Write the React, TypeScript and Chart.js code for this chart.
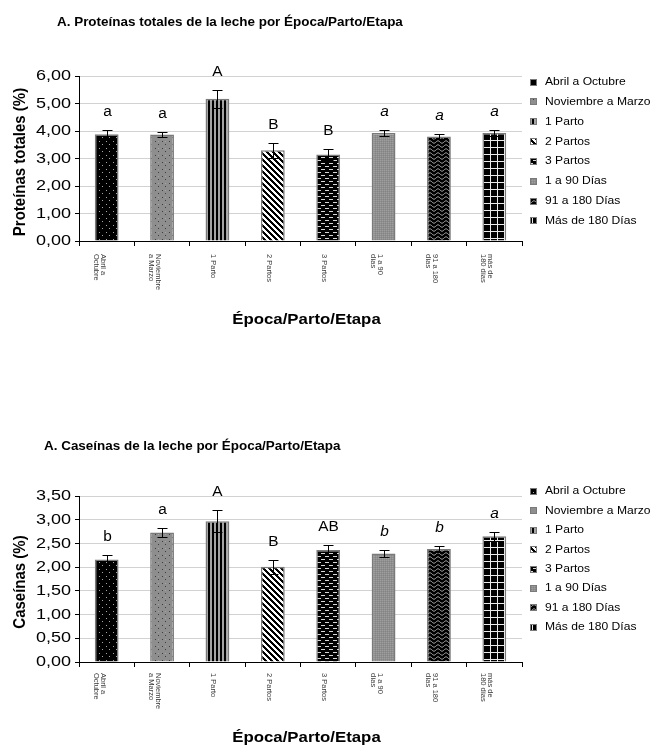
import React, { useEffect, useRef } from "react";
import { Chart, registerables } from "chart.js";

Chart.register(...registerables);

// ---------- DATA ----------
const categories = [
  "Abril a\nOctubre",
  "Noviembre\na Marzo",
  "1 Parto",
  "2 Partos",
  "3 Partos",
  "1 a 90\ndías",
  "91 a 180\ndías",
  "más de\n180 días",
];
const legendNames = [
  "Abril a Octubre",
  "Noviembre a Marzo",
  "1 Parto",
  "2 Partos",
  "3 Partos",
  "1 a 90 Días",
  "91 a 180 Días",
  "Más de 180 Días",
];
const proteinValues = [3.88, 3.87, 5.17, 3.3, 3.15, 3.93, 3.8, 3.93];
const proteinErrors = [0.15, 0.1, 0.33, 0.27, 0.2, 0.1, 0.1, 0.1];
const proteinLetters = ["a", "a", "A", "B", "B", "a", "a", "a"];
const caseinValues = [2.16, 2.73, 2.97, 2.01, 2.36, 2.29, 2.38, 2.65];
const caseinErrors = [0.1, 0.09, 0.23, 0.15, 0.11, 0.08, 0.07, 0.09];
const caseinLetters = ["b", "a", "A", "B", "AB", "b", "b", "a"];
const italicLetters = [false, false, false, false, false, true, true, true];
const proteinAxis = { max: 6, step: 1 };
const caseinAxis = { max: 3.5, step: 0.5 };

const FONT = "'Liberation Sans', Arial, Helvetica, sans-serif";

// ---------- PATTERNS ----------
function tile(w: number, h: number, draw: (c: CanvasRenderingContext2D) => void) {
  const cv = document.createElement("canvas");
  cv.width = w;
  cv.height = h;
  const c = cv.getContext("2d")!;
  draw(c);
  return c.createPattern(cv, "repeat")!;
}

function makePatterns() {
  return [
    tile(7, 7, (c) => {
      c.fillStyle = "#000";
      c.fillRect(0, 0, 7, 7);
      c.fillStyle = "#a8a8a8";
      c.fillRect(1, 1, 1, 1);
      c.fillRect(4, 4, 1, 1);
    }),
    tile(7, 7, (c) => {
      c.fillStyle = "#8e8e8e";
      c.fillRect(0, 0, 7, 7);
      c.fillStyle = "#3c3c3c";
      c.fillRect(1, 1, 1, 1);
      c.fillRect(4, 4, 1, 1);
      c.fillStyle = "#a6a6a6";
      c.fillRect(4, 1, 1, 1);
    }),
    tile(4, 1, (c) => {
      c.fillStyle = "#000";
      c.fillRect(0, 0, 2, 1);
      c.fillStyle = "#a4a4a4";
      c.fillRect(2, 0, 2, 1);
    }),
    tile(6, 6, (c) => {
      for (let y = 0; y < 6; y++)
        for (let x = 0; x < 6; x++) {
          c.fillStyle = (x - y + 12) % 6 < 3 ? "#000" : "#fff";
          c.fillRect(x, y, 1, 1);
        }
    }),
    tile(8, 6, (c) => {
      c.fillStyle = "#000";
      c.fillRect(0, 0, 8, 6);
      c.fillStyle = "#d8d8d8";
      c.fillRect(1, 1, 4, 1);
      c.fillRect(5, 4, 3, 1);
      c.fillRect(0, 4, 1, 1);
    }),
    tile(2, 2, (c) => {
      c.fillStyle = "#8f8f8f";
      c.fillRect(0, 0, 2, 2);
      c.fillStyle = "#9e9e9e";
      c.fillRect(0, 0, 1, 1);
      c.fillStyle = "#848484";
      c.fillRect(1, 1, 1, 1);
    }),
    tile(8, 4, (c) => {
      c.fillStyle = "#000";
      c.fillRect(0, 0, 8, 4);
      c.strokeStyle = "#b4b4b4";
      c.lineWidth = 1;
      c.beginPath();
      for (let x = 0; x <= 8; x += 0.5) {
        const y = 2 + 1.2 * Math.sin((2 * Math.PI * x) / 8);
        if (x === 0) c.moveTo(x, y);
        else c.lineTo(x, y);
      }
      c.stroke();
    }),
    tile(7, 7, (c) => {
      c.fillStyle = "#000";
      c.fillRect(0, 0, 7, 7);
      c.fillStyle = "#ececec";
      c.fillRect(0, 0, 7, 1);
      c.fillRect(0, 0, 1, 7);
    }),
  ];
}

function txt(
  ctx: CanvasRenderingContext2D,
  s: string,
  x: number,
  y: number,
  font: string,
  align: CanvasTextAlign,
  sx = 1.12,
  color = "#000"
) {
  ctx.save();
  ctx.translate(x, y);
  ctx.scale(sx, 1);
  ctx.font = font;
  ctx.fillStyle = color;
  ctx.textAlign = align;
  ctx.textBaseline = "middle";
  ctx.fillText(s, 0, 0);
  ctx.restore();
}

type PanelCfg = {
  height: number;
  top: number;
  bottom: number;
  title: string;
  titleX: number;
  titleY: number;
  yTitle: string;
  yTitleY: number;
  xTitleY: number;
  legendY0: number;
  legendStep: number;
  values: number[];
  errors: number[];
  letters: string[];
  axis: { max: number; step: number };
  labelGap: number;
};

function Panel({ cfg }: { cfg: PanelCfg }) {
  const ref = useRef<HTMLCanvasElement | null>(null);
  useEffect(() => {
    const canvas = ref.current!;
    const patterns = makePatterns();
    const left = 79;
    const right = 522;
    const xAxisH = 6;

    const overlay = {
      id: "overlay",
      afterDraw(chart: any) {
        const ctx: CanvasRenderingContext2D = chart.ctx;
        const xs = chart.scales.x;
        const ys = chart.scales.y;
        const area = chart.chartArea;

        ys.ticks.forEach((t: any) => {
          const y = ys.getPixelForValue(t.value);
          txt(ctx, t.value.toFixed(2).replace(".", ","), 71, y, `15px ${FONT}`, "right", 1.2);
        });

        ctx.save();
        ctx.strokeStyle = "#000";
        ctx.lineWidth = 1;
        cfg.values.forEach((v, i) => {
          const x = Math.round(xs.getPixelForValue(i)) + 0.5;
          const yt = Math.round(ys.getPixelForValue(v + cfg.errors[i])) + 0.5;
          const yb = Math.round(ys.getPixelForValue(v - cfg.errors[i])) + 0.5;
          ctx.beginPath();
          ctx.moveTo(x, yt);
          ctx.lineTo(x, yb);
          ctx.moveTo(x - 5, yt);
          ctx.lineTo(x + 5, yt);
          ctx.moveTo(x - 5, yb);
          ctx.lineTo(x + 5, yb);
          ctx.stroke();
          const f = `${italicLetters[i] ? "italic " : ""}14px ${FONT}`;
          txt(ctx, cfg.letters[i], x, yt - 18, f, "center", 1.1);
        });
        ctx.restore();

        categories.forEach((c, i) => {
          const cx = xs.getPixelForValue(i);
          c.split("\n").forEach((line, j) => {
            ctx.save();
            ctx.translate(cx - 4 - 7 * j, area.bottom + cfg.labelGap);
            ctx.rotate(Math.PI / 2);
            ctx.font = `7.5px ${FONT}`;
            ctx.fillStyle = "#3a3a3a";
            ctx.textAlign = "left";
            ctx.textBaseline = "middle";
            ctx.fillText(line, 0, 0);
            ctx.restore();
          });
        });

        txt(ctx, cfg.title, cfg.titleX, cfg.titleY, `bold 12px ${FONT}`, "left", 1.12);
        txt(ctx, "Época/Parto/Etapa", (area.left + area.right) / 2 + 6, cfg.xTitleY, `bold 15px ${FONT}`, "center", 1.12);
        ctx.save();
        ctx.translate(20, cfg.yTitleY);
        ctx.rotate(-Math.PI / 2);
        ctx.scale(1, 1.12);
        ctx.font = `bold 15px ${FONT}`;
        ctx.fillStyle = "#000";
        ctx.textAlign = "center";
        ctx.textBaseline = "middle";
        ctx.fillText(cfg.yTitle, 0, 0);
        ctx.restore();

        legendNames.forEach((name, i) => {
          const y = cfg.legendY0 + i * cfg.legendStep;
          const yy = Math.round(y) - 3;
          ctx.save();
          ctx.fillStyle = patterns[i];
          ctx.fillRect(530, yy, 7, 7);
          ctx.strokeStyle = "#7a7a7a";
          ctx.lineWidth = 1;
          ctx.strokeRect(530.5, yy + 0.5, 6, 6);
          ctx.restore();
          txt(ctx, name, 545, y + 0.5, `11px ${FONT}`, "left", 1.1);
        });
      },
    };

    const chart = new Chart(canvas, {
      type: "bar",
      data: {
        labels: categories,
        datasets: [
          {
            data: cfg.values,
            backgroundColor: patterns as any,
            borderColor: "#7a7a7a",
            borderWidth: 1.5,
            barPercentage: 0.43,
            categoryPercentage: 1,
          },
        ],
      },
      options: {
        responsive: false,
        animation: false,
        events: [],
        layout: {
          padding: {
            left: 0,
            right: 652 - right,
            top: cfg.top,
            bottom: cfg.height - cfg.bottom - xAxisH,
          },
        },
        plugins: {
          legend: { display: false },
          title: { display: false },
          tooltip: { enabled: false },
        },
        scales: {
          x: {
            offset: true,
            ticks: { display: false },
            grid: {
              offset: true,
              drawOnChartArea: false,
              tickLength: 5,
              tickColor: "#000",
              color: "#000",
            },
            border: { color: "#000", width: 1 },
            afterFit: (s: any) => {
              s.height = xAxisH;
            },
          },
          y: {
            min: 0,
            max: cfg.axis.max,
            ticks: { stepSize: cfg.axis.step, display: false },
            grid: {
              color: "#d2d2d2",
              lineWidth: 1,
              tickLength: 4,
              tickColor: "#000",
            },
            border: { color: "#000", width: 1 },
            afterFit: (s: any) => {
              s.width = left;
            },
          },
        },
      },
      plugins: [overlay],
    });
    return () => chart.destroy();
  }, [cfg]);
  return <canvas ref={ref} width={652} height={cfg.height} style={{ display: "block" }} />;
}

const topCfg: PanelCfg = {
  height: 372,
  top: 76,
  bottom: 241,
  title: "A. Proteínas totales de la leche por Época/Parto/Etapa",
  titleX: 57,
  titleY: 23,
  yTitle: "Proteínas totales (%)",
  yTitleY: 162,
  xTitleY: 320,
  legendY0: 81.5,
  legendStep: 19.85,
  values: proteinValues,
  errors: proteinErrors,
  letters: proteinLetters,
  axis: proteinAxis,
  labelGap: 13,
};

const bottomCfg: PanelCfg = {
  height: 373,
  top: 496 - 372,
  bottom: 662 - 372,
  title: "A. Caseínas de la leche por Época/Parto/Etapa",
  titleX: 44,
  titleY: 447 - 372,
  yTitle: "Caseínas (%)",
  yTitleY: 582 - 372,
  xTitleY: 738 - 372,
  legendY0: 490.7 - 372,
  legendStep: 19.45,
  values: caseinValues,
  errors: caseinErrors,
  letters: caseinLetters,
  axis: caseinAxis,
  labelGap: 11,
};

export default function App() {
  return (
    <div style={{ position: "absolute", left: 0, top: 0, width: 652, height: 745, background: "#fff" }}>
      <Panel cfg={topCfg} />
      <Panel cfg={bottomCfg} />
    </div>
  );
}
